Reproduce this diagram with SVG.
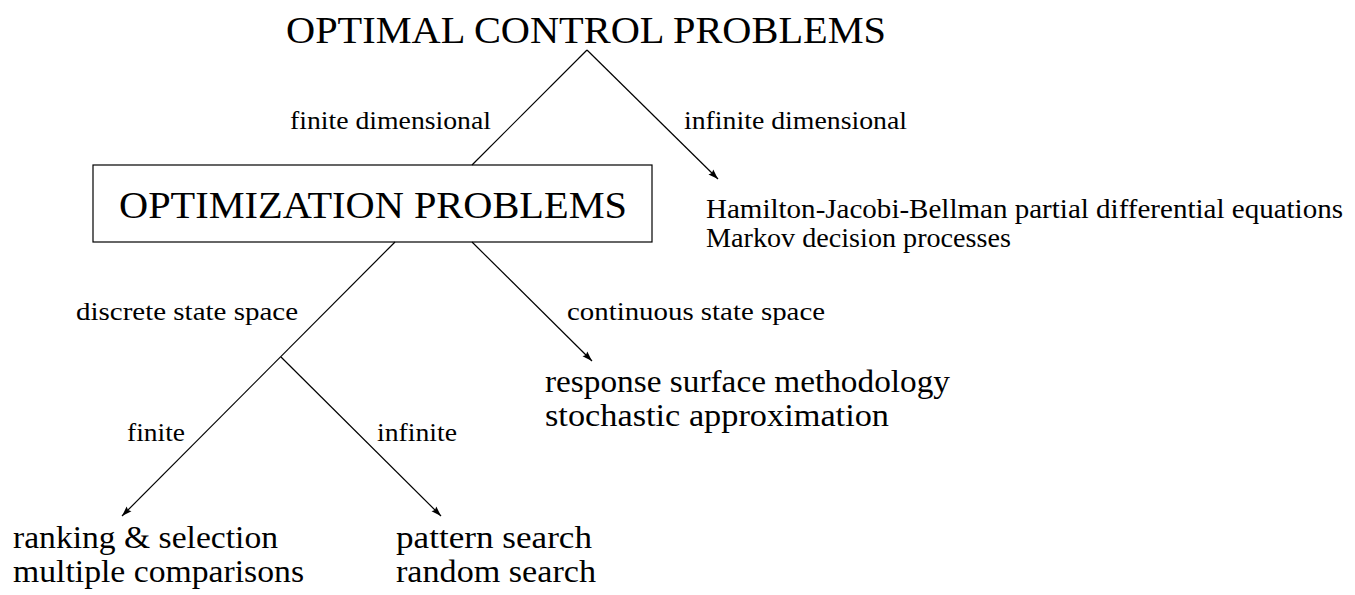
<svg xmlns="http://www.w3.org/2000/svg" width="1355" height="595" viewBox="0 0 1355 595">
<style>
text{font-family:"Liberation Serif","DejaVu Serif",serif;fill:#000}
.big{font-size:37px}
.lab{font-size:26px}
.item{font-size:26.5px}
.item2{font-size:31px}
.ln{stroke:#000;stroke-width:1.2;fill:none}
</style>
<defs>
<marker id="ah" viewBox="0 0 10 8" refX="10" refY="4" markerWidth="10" markerHeight="8" markerUnits="userSpaceOnUse" orient="auto">
<path d="M0,0.6 L10,4 L0,7.4 L1.5,4 z" fill="#000"/>
</marker>
</defs>
<g id="connectors">
<line class="ln" x1="587" y1="50" x2="472" y2="165"/>
<line class="ln" x1="587" y1="50" x2="718" y2="179" marker-end="url(#ah)"/>
<line class="ln" x1="472" y1="242" x2="592" y2="361" marker-end="url(#ah)"/>
<line class="ln" x1="395" y1="242" x2="122" y2="516" marker-end="url(#ah)"/>
<line class="ln" x1="281" y1="357" x2="441" y2="516" marker-end="url(#ah)"/>
<text class="lab" x="290" y="129" textLength="201" lengthAdjust="spacingAndGlyphs">finite dimensional</text>
<text class="lab" x="684" y="129" textLength="223" lengthAdjust="spacingAndGlyphs">infinite dimensional</text>
<text class="lab" x="76" y="320" textLength="222" lengthAdjust="spacingAndGlyphs">discrete state space</text>
<text class="lab" x="567" y="320" textLength="258" lengthAdjust="spacingAndGlyphs">continuous state space</text>
<text class="lab" x="127" y="441" textLength="58" lengthAdjust="spacingAndGlyphs">finite</text>
<text class="lab" x="377" y="441" textLength="80" lengthAdjust="spacingAndGlyphs">infinite</text>
</g>
<g id="ocp">
<text class="big" x="286" y="43" textLength="600" lengthAdjust="spacingAndGlyphs">OPTIMAL CONTROL PROBLEMS</text>
</g>
<g id="op">
<rect x="93" y="165" width="559" height="77" fill="none" stroke="#000" stroke-width="1.2"/>
<text class="big" x="119" y="218" textLength="508" lengthAdjust="spacingAndGlyphs">OPTIMIZATION PROBLEMS</text>
</g>
<g id="inf">
<text class="item" x="706" y="218" textLength="637" lengthAdjust="spacingAndGlyphs">Hamilton-Jacobi-Bellman partial differential equations</text>
<text class="item" x="706" y="247" textLength="305" lengthAdjust="spacingAndGlyphs">Markov decision processes</text>
</g>
<g id="cont">
<text class="item2" x="545" y="392" textLength="405" lengthAdjust="spacingAndGlyphs">response surface methodology</text>
<text class="item2" x="545" y="426" textLength="344" lengthAdjust="spacingAndGlyphs">stochastic approximation</text>
</g>
<g id="finite">
<text class="item2" x="13" y="548" textLength="265" lengthAdjust="spacingAndGlyphs">ranking &amp; selection</text>
<text class="item2" x="13" y="582" textLength="291" lengthAdjust="spacingAndGlyphs">multiple comparisons</text>
</g>
<g id="infinite">
<text class="item2" x="396" y="548" textLength="196" lengthAdjust="spacingAndGlyphs">pattern search</text>
<text class="item2" x="396" y="582" textLength="200" lengthAdjust="spacingAndGlyphs">random search</text>
</g>
</svg>
